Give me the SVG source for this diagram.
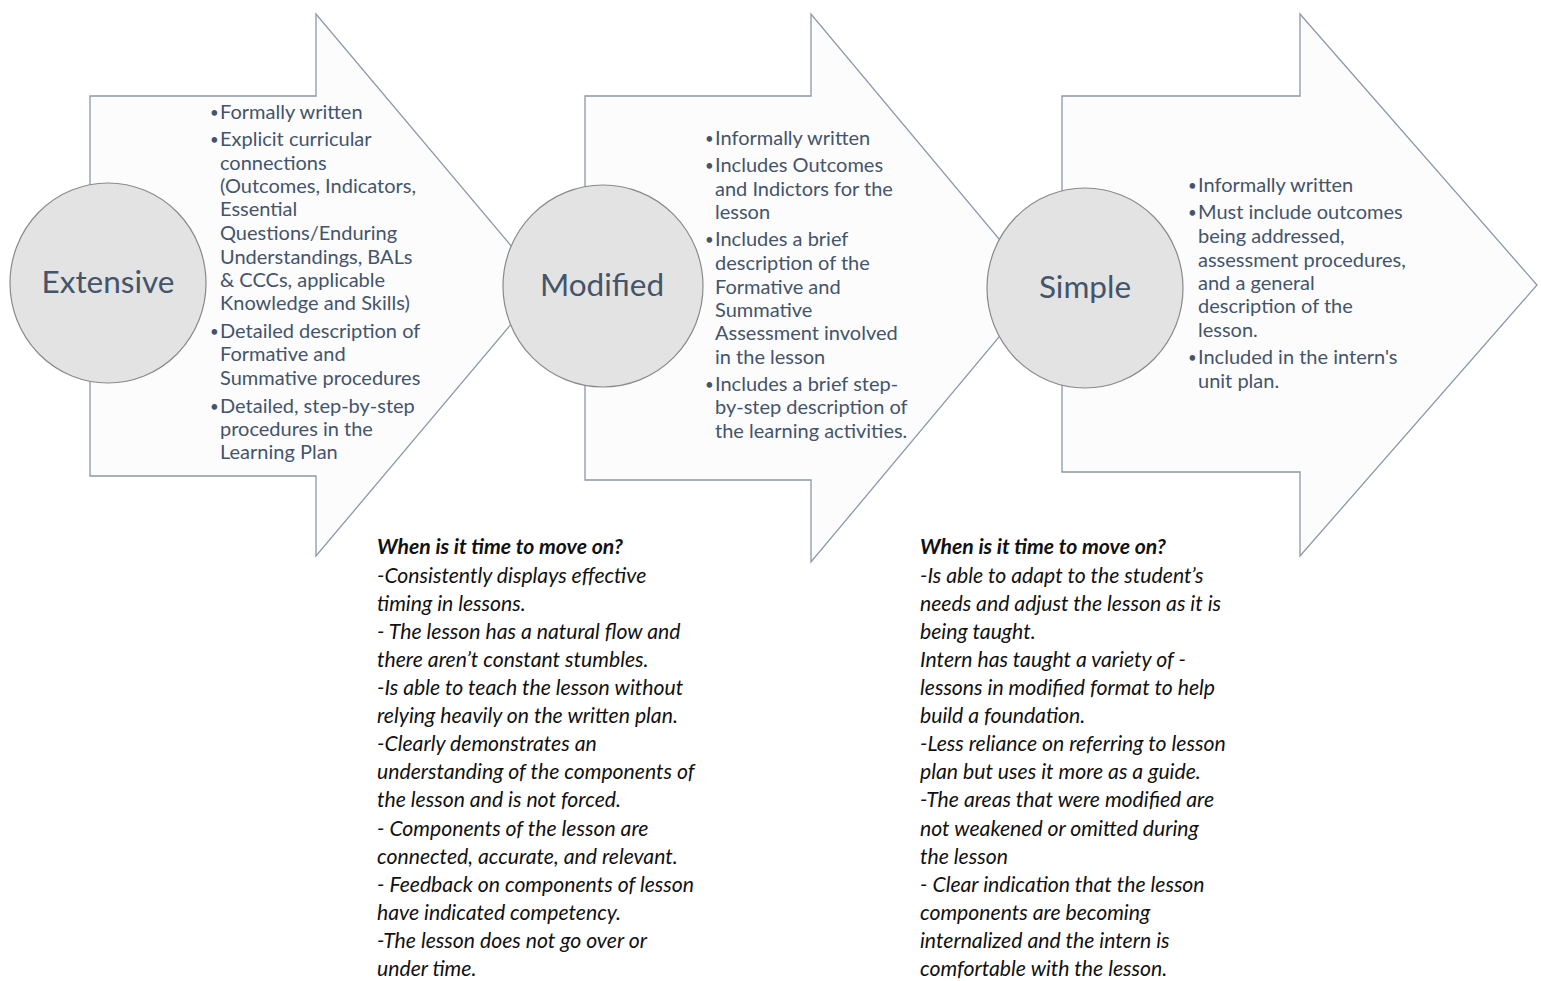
<svg xmlns="http://www.w3.org/2000/svg" width="1541" height="981" viewBox="0 0 1541 981">
<style>
.arrow{fill:#fcfcfd;stroke:#8d97a8;stroke-width:1.3}
.circ{fill:#e3e3e3;stroke:#8a8a8a;stroke-width:1.2}
.lbl{font-family:Lato,"Liberation Sans",sans-serif;font-size:31.5px;fill:#44546a;text-anchor:middle}
.bl{font-family:Lato,"Liberation Sans",sans-serif;font-size:20px;fill:#44546a}
.dot{font-size:15px}
.it{font-family:Lato,"Liberation Sans",sans-serif;font-size:21.2px;font-style:italic;fill:#111}
.hd{font-weight:bold}
</style>
<rect width="1541" height="981" fill="#ffffff"/>
<g id="connectors">
<path class="arrow" d="M90,96 H316 V14 L544,285 L316,556 V476 H90 Z"/>
<path class="arrow" d="M585,96 H811 V14 L1040,288 L811,562 V480 H585 Z"/>
<path class="arrow" d="M1062,96 H1300 V14 L1537,285 L1300,556 V472 H1062 Z"/>
</g>
<g id="extensive">
<ellipse class="circ" cx="108" cy="283" rx="98" ry="100"/>
<text class="lbl" x="108" y="293">Extensive</text>
<text class="bl">
<tspan class="dot" x="210" y="118">•</tspan><tspan x="220" y="119">Formally written</tspan>
<tspan class="dot" x="210" y="145">•</tspan><tspan x="220" y="146">Explicit curricular</tspan>
<tspan x="220" y="170">connections</tspan>
<tspan x="220" y="193">(Outcomes, Indicators,</tspan>
<tspan x="220" y="216">Essential</tspan>
<tspan x="220" y="240">Questions/Enduring</tspan>
<tspan x="220" y="264">Understandings, BALs</tspan>
<tspan x="220" y="287">&amp; CCCs, applicable</tspan>
<tspan x="220" y="310">Knowledge and Skills)</tspan>
<tspan class="dot" x="210" y="337">•</tspan><tspan x="220" y="338">Detailed description of</tspan>
<tspan x="220" y="361">Formative and</tspan>
<tspan x="220" y="385">Summative procedures</tspan>
<tspan class="dot" x="210" y="412">•</tspan><tspan x="220" y="413">Detailed, step-by-step</tspan>
<tspan x="220" y="436">procedures in the</tspan>
<tspan x="220" y="459">Learning Plan</tspan>
</text>
</g>
<g id="modified">
<ellipse class="circ" cx="603" cy="286" rx="100" ry="101"/>
<text class="lbl" x="602" y="296">Modified</text>
<text class="bl">
<tspan class="dot" x="705" y="144">•</tspan><tspan x="715" y="145">Informally written</tspan>
<tspan class="dot" x="705" y="171">•</tspan><tspan x="715" y="172">Includes Outcomes</tspan>
<tspan x="715" y="196">and Indictors for the</tspan>
<tspan x="715" y="219">lesson</tspan>
<tspan class="dot" x="705" y="245">•</tspan><tspan x="715" y="246">Includes a brief</tspan>
<tspan x="715" y="270">description of the</tspan>
<tspan x="715" y="294">Formative and</tspan>
<tspan x="715" y="317">Summative</tspan>
<tspan x="715" y="340">Assessment involved</tspan>
<tspan x="715" y="364">in the lesson</tspan>
<tspan class="dot" x="705" y="390">•</tspan><tspan x="715" y="391">Includes a brief step-</tspan>
<tspan x="715" y="414">by-step description of</tspan>
<tspan x="715" y="438">the learning activities.</tspan>
</text>
</g>
<g id="simple">
<ellipse class="circ" cx="1085" cy="288" rx="98" ry="100"/>
<text class="lbl" x="1085" y="298">Simple</text>
<text class="bl">
<tspan class="dot" x="1188" y="191">•</tspan><tspan x="1198" y="192">Informally written</tspan>
<tspan class="dot" x="1188" y="218">•</tspan><tspan x="1198" y="219">Must include outcomes</tspan>
<tspan x="1198" y="243">being addressed,</tspan>
<tspan x="1198" y="267">assessment procedures,</tspan>
<tspan x="1198" y="290">and a general</tspan>
<tspan x="1198" y="313">description of the</tspan>
<tspan x="1198" y="337">lesson.</tspan>
<tspan class="dot" x="1188" y="363">•</tspan><tspan x="1198" y="364">Included in the intern's</tspan>
<tspan x="1198" y="388">unit plan.</tspan>
</text>
</g>
<g id="move-on-1">
<text class="it">
<tspan class="hd" x="377" y="554">When is it time to move on?</tspan>
<tspan x="377" y="583">-Consistently displays effective</tspan>
<tspan x="377" y="611">timing in lessons.</tspan>
<tspan x="377" y="639">- The lesson has a natural flow and</tspan>
<tspan x="377" y="667">there aren’t constant stumbles.</tspan>
<tspan x="377" y="695">-Is able to teach the lesson without</tspan>
<tspan x="377" y="723">relying heavily on the written plan.</tspan>
<tspan x="377" y="751">-Clearly demonstrates an</tspan>
<tspan x="377" y="779">understanding of the components of</tspan>
<tspan x="377" y="807">the lesson and is not forced.</tspan>
<tspan x="377" y="836">- Components of the lesson are</tspan>
<tspan x="377" y="864">connected, accurate, and relevant.</tspan>
<tspan x="377" y="892">- Feedback on components of lesson</tspan>
<tspan x="377" y="920">have indicated competency.</tspan>
<tspan x="377" y="948">-The lesson does not go over or</tspan>
<tspan x="377" y="976">under time.</tspan>
</text>
</g>
<g id="move-on-2">
<text class="it">
<tspan class="hd" x="920" y="554">When is it time to move on?</tspan>
<tspan x="920" y="583">-Is able to adapt to the student’s</tspan>
<tspan x="920" y="611">needs and adjust the lesson as it is</tspan>
<tspan x="920" y="639">being taught.</tspan>
<tspan x="920" y="667">Intern has taught a variety of -</tspan>
<tspan x="920" y="695">lessons in modified format to help</tspan>
<tspan x="920" y="723">build a foundation.</tspan>
<tspan x="920" y="751">-Less reliance on referring to lesson</tspan>
<tspan x="920" y="779">plan but uses it more as a guide.</tspan>
<tspan x="920" y="807">-The areas that were modified are</tspan>
<tspan x="920" y="836">not weakened or omitted during</tspan>
<tspan x="920" y="864">the lesson</tspan>
<tspan x="920" y="892">- Clear indication that the lesson</tspan>
<tspan x="920" y="920">components are becoming</tspan>
<tspan x="920" y="948">internalized and the intern is</tspan>
<tspan x="920" y="976">comfortable with the lesson.</tspan>
</text>
</g>
</svg>
